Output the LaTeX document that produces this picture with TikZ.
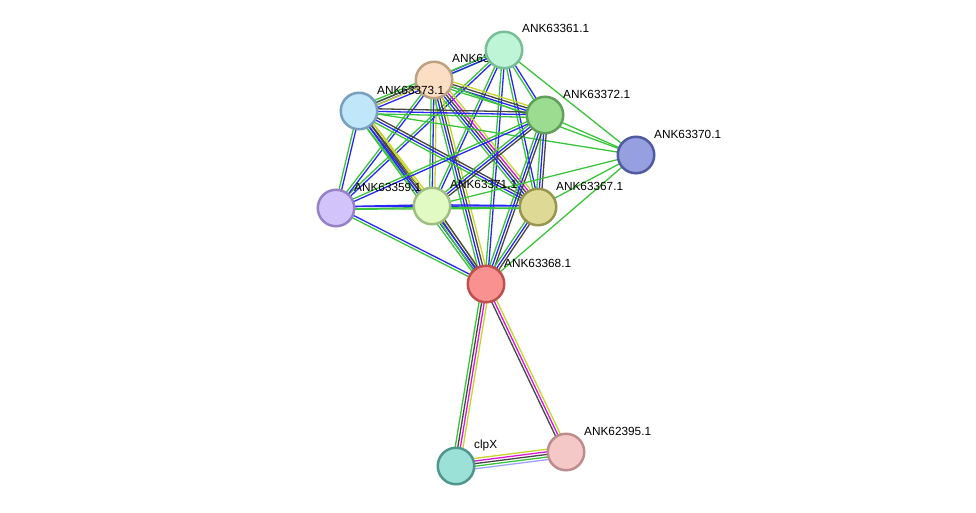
\documentclass[tikz,border=0pt]{standalone}
\usepackage{fontspec}
\setmainfont{Liberation Sans}
\usetikzlibrary{calc,backgrounds}
\definecolor{eg}{RGB}{58,196,58}
\definecolor{eb}{RGB}{40,40,245}
\definecolor{ek}{RGB}{70,70,70}
\definecolor{ey}{RGB}{200,212,40}
\definecolor{em}{RGB}{220,20,220}
\definecolor{el}{RGB}{160,160,255}
\newcommand\bundle[3]{%
  \gdef\nbund{0}%
  \foreach \cc in {#3}{\xdef\nbund{\the\numexpr\nbund+1\relax}}%
  \foreach \cc [count=\ii] in {#3}{%
    \pgfmathsetmacro\offb{(\ii-1-(\nbund-1)/2)*2.6}%
    \draw[\cc,line width=1.3pt] ($(#1.center)!\offb pt!90:(#2.center)$) -- ($(#2.center)!\offb pt!-90:(#1.center)$);
  }}
\begin{document}
\begin{tikzpicture}[x=1pt,y=-1pt,
  prot/.style={circle,minimum size=36.5pt,inner sep=0pt,line width=2.5pt},
  lab/.style={anchor=west,font=\fontsize{11.8}{13}\selectfont,inner sep=0pt}]
\useasboundingbox (0,0) rectangle (976,512);
% nodes
\node[prot,fill={rgb,255:red,252;green,222;blue,196},draw={rgb,255:red,190;green,160;blue,130}] (P) at (434,80) {};
\node[lab] (lP) at (452,58) {ANK63360.1};
\node[prot,fill={rgb,255:red,190;green,245;blue,215},draw={rgb,255:red,120;green,190;blue,150}] (A) at (504,50) {};
\node[prot,fill={rgb,255:red,192;green,230;blue,250},draw={rgb,255:red,120;green,160;blue,190}] (LB) at (359,111) {};
\node[prot,fill={rgb,255:red,155;green,220;blue,145},draw={rgb,255:red,95;green,160;blue,90}] (G) at (545,115) {};
\node[prot,fill={rgb,255:red,150;green,160;blue,225},draw={rgb,255:red,80;green,90;blue,160}] (DB) at (636,155) {};
\node[prot,fill={rgb,255:red,210;green,195;blue,250},draw={rgb,255:red,150;green,130;blue,200}] (L) at (336,208) {};
\node[prot,fill={rgb,255:red,225;green,250;blue,195},draw={rgb,255:red,160;green,190;blue,130}] (Y) at (432,206) {};
\node[prot,fill={rgb,255:red,222;green,218;blue,150},draw={rgb,255:red,150;green,150;blue,80}] (O) at (538,207) {};
\node[prot,fill={rgb,255:red,250;green,145;blue,145},draw={rgb,255:red,190;green,80;blue,80}] (R) at (486,284) {};
\node[prot,fill={rgb,255:red,155;green,225;blue,215},draw={rgb,255:red,80;green,150;blue,140}] (C) at (456,466) {};
\node[prot,fill={rgb,255:red,245;green,200;blue,200},draw={rgb,255:red,190;green,140;blue,140}] (K) at (566,452) {};
% labels
\node[lab] at (522,28) {ANK63361.1};
\node[lab] at (377,90) {ANK63373.1};
\node[lab] at (563,94) {ANK63372.1};
\node[lab] at (654,134) {ANK63370.1};
\node[lab] at (354,187) {ANK63359.1};
\node[lab] at (450,184) {ANK63371.1};
\node[lab] at (556,186) {ANK63367.1};
\node[lab] at (504,263) {ANK63368.1};
\node[lab] at (474,445) {clpX};
\node[lab] at (584,431) {ANK62395.1};
% edges
\begin{pgfonlayer}{background}
\bundle{A}{P}{eb,eg}
\bundle{A}{LB}{eg,eb}
\bundle{A}{G}{eg,eb}
\bundle{A}{DB}{eg}
\bundle{A}{L}{eg,eb}
\bundle{A}{Y}{eg,eb}
\bundle{A}{O}{eg,eb}
\bundle{A}{R}{eg,eb}
\bundle{P}{LB}{eg,ek,ey,eb}
\bundle{P}{G}{eg,eb,ek,ey}
\bundle{P}{DB}{eg}
\bundle{P}{L}{eg,eb}
\bundle{P}{Y}{eg,eb,ey}
\bundle{P}{O}{eg,eb,ek,em,ey}
\bundle{P}{R}{eg,eb,ek,ey}
\bundle{LB}{G}{eg,eb,ek}
\bundle{LB}{DB}{eg}
\bundle{LB}{L}{eg,eb}
\bundle{LB}{Y}{eg,eb,ek,ey}
\bundle{LB}{O}{eg,eb,ek}
\bundle{LB}{R}{eg,eb,ek,ey}
\bundle{G}{DB}{eg}
\bundle{G}{L}{eg,eb}
\bundle{G}{Y}{eg,eb,ek}
\bundle{G}{O}{eg,eb,ek}
\bundle{G}{R}{eg,eb,ek}
\bundle{DB}{Y}{eg}
\bundle{DB}{O}{eg}
\bundle{DB}{R}{eg}
\bundle{L}{Y}{eg,eb}
\bundle{L}{O}{eg,eb}
\bundle{L}{R}{eg,eb}
\bundle{Y}{O}{eg,eb}
\bundle{Y}{R}{eg,eb,ek}
\bundle{O}{R}{eg,eb,ek}
\bundle{R}{C}{eg,ek,em,ey}
\bundle{R}{K}{ek,em,ey}
\bundle{C}{K}{el,eg,ek,em,ey}
\end{pgfonlayer}
\end{tikzpicture}
\end{document}
